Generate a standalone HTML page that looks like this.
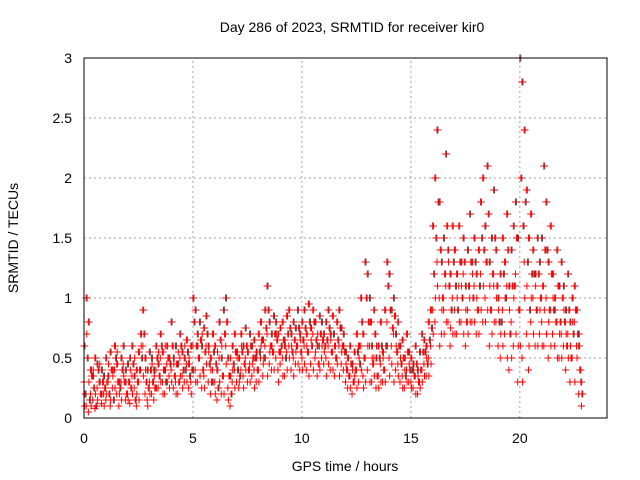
<!DOCTYPE html>
<html><head><meta charset="utf-8"><style>
body{margin:0;background:#fff;}
svg{display:block;font-family:"Liberation Sans",sans-serif;}
</style></head><body>
<svg id="chart" width="640" height="480" viewBox="0 0 640 480" xmlns="http://www.w3.org/2000/svg">
<rect width="640" height="480" fill="#fff"/>
<text x="352" y="32" font-size="14" text-anchor="middle">Day 286 of 2023, SRMTID for receiver kir0</text>
<text x="345" y="471" font-size="14" text-anchor="middle">GPS time / hours</text>
<text transform="translate(18,238) rotate(-90)" font-size="14" text-anchor="middle">SRMTID / TECUs</text>
<g id="grid"></g>
<g id="ticks"></g>
<g id="pts"></g>
<rect x="84" y="58" width="523" height="360" fill="none" stroke="#000" stroke-width="1"/>
</svg>
<script>
const xTicks=[0,5,10,15,20];
const yTicks=[0,0.5,1,1.5,2,2.5,3];
const yTickLabels=["0","0.5","1","1.5","2","2.5","3"];
const startHour=0, stepHour=0.1;
const valsLow=[
.3,.1,.05,.2,.15,.08,.25,.3,.12,.2,
.15,.3,.1,.25,.4,.2,.1,.3,.45,.15,
.2,.12,.35,.25,.1,.3,.4,.6,.2,.15,
.3,.2,.15,.4,.25,.5,.3,.2,.45,.35,
.4,.25,.3,.2,.5,.35,.3,.45,.25,.3,
.6,.4,.3,.5,.25,.35,.6,.3,.2,.4,
.3,.15,.5,.2,.35,.6,.25,.1,.3,.4,
.3,.25,.4,.35,.5,.3,.45,.35,.4,.3,
.4,.5,.35,.6,.7,.45,.4,.55,.5,.4,
.45,.5,.35,.55,.6,.4,.5,.45,.6,.4,
.5,.6,.4,.55,.45,.7,.5,.35,.6,.5,
.45,.5,.6,.4,.55,.35,.5,.6,.45,.4,
.3,.25,.35,.2,.3,.4,.3,.6,.35,.5,
.4,.6,.3,.5,.25,.35,.45,.3,.4,.8,
.5,.6,.7,.4,.45,.3,.35,.25,.4,.3,
.3,.25,.35,.2,.3,.4,.45,.35,.5,.6,
.9,.8,1.3,1.0,.7,.9,1.1,.8,.6,1.0,
.9,.7,1.1,.8,1.2,.6,.9,1.0,.8,1.1,
.7,.9,1.2,.8,1.0,1.3,.6,.9,1.1,.8,
.6,.5,.9,.7,1.1,.4,.8,.6,1.2,.3,
.9,.5,1.3,.7,.4,.8,1.0,.6,.9,.7,
.8,.6,1.0,.5,.9,.7,.6,.8,.5,.7,
.6,.4,.7,.3,.5,.8,.6,.2,.4];
const valsHigh=[
.6,1.0,.8,.4,.35,.5,.45,.3,.4,.35,
.5,.35,.55,.4,.6,.45,.3,.5,.6,.4,
.45,.5,.6,.35,.4,.55,.7,.9,.5,.4,
.55,.5,.4,.6,.45,.7,.55,.4,.6,.5,
.8,.5,.6,.45,.7,.55,.5,.65,.45,.6,
1.0,.9,.7,.8,.6,.75,.85,.6,.5,.7,
.6,.4,.8,.5,.9,1.0,.5,.35,.6,.7,
.55,.5,.7,.6,.75,.55,.7,.6,.65,.55,
.7,.8,.65,.9,1.1,.8,.7,.85,.8,.7,
.75,.8,.6,.85,.9,.7,.8,.75,.9,.7,
.8,.9,.7,.95,.75,.9,.8,.6,.85,.8,
.7,.8,.9,.7,.85,.6,.8,.9,.75,.7,
.55,.5,.6,.45,.55,.7,.6,1.0,.7,1.3,
1.2,1.0,.6,.9,.5,.6,.8,.55,.9,1.3,
1.2,.9,1.0,.7,.8,.6,.65,.5,.7,.55,
.5,.45,.6,.4,.55,.7,.65,.6,.8,.9,
1.6,2.0,2.4,1.8,1.3,1.5,2.2,1.4,1.2,1.6,
1.4,1.2,1.6,1.3,1.5,1.1,1.4,1.7,1.3,1.5,
1.2,1.4,1.8,2.0,1.6,2.1,1.3,1.5,1.9,1.4,
1.0,1.2,1.5,1.3,1.7,1.1,1.4,1.6,1.8,1.5,
3.0,2.8,2.4,1.9,1.5,1.7,1.4,1.2,1.5,1.3,
1.5,2.1,1.8,1.3,1.6,1.2,1.0,1.4,1.1,1.3,
1.1,.9,1.2,.8,1.0,1.1,.9,.6,.3];
const valsMidA=[
.2,.5,.15,.35,.25,.1,.4,.2,.3,.25,
.3,.2,.4,.15,.5,.3,.25,.4,.3,.2,
.3,.25,.45,.15,.3,.4,.5,.7,.3,.25,
.4,.3,.25,.5,.35,.6,.4,.3,.5,.45,
.6,.35,.45,.3,.6,.4,.4,.55,.35,.4,
.8,.6,.5,.65,.4,.55,.7,.45,.3,.55,
.45,.25,.65,.35,.7,.8,.35,.2,.45,.55,
.4,.35,.55,.45,.6,.4,.6,.5,.5,.4,
.55,.65,.5,.75,.9,.6,.55,.7,.65,.55,
.6,.65,.5,.7,.75,.55,.65,.6,.75,.55,
.65,.75,.55,.8,.6,.8,.65,.45,.7,.65,
.6,.65,.75,.55,.7,.5,.65,.75,.6,.55,
.4,.35,.45,.3,.4,.55,.45,.8,.5,1.0,
.8,.8,.45,.7,.35,.5,.6,.4,.6,1.1,
.9,.75,.85,.55,.6,.45,.5,.35,.55,.4,
.4,.35,.45,.3,.4,.55,.55,.45,.65,.75,
1.2,1.5,1.8,1.4,1.0,1.2,1.6,1.1,.9,1.3,
1.1,.9,1.3,1.0,1.3,.8,1.1,1.3,1.0,1.3,
.9,1.1,1.5,1.4,1.3,1.7,.9,1.2,1.5,1.1,
.8,.8,1.2,1.0,1.4,.7,1.1,1.1,1.5,.9,
2.0,1.6,1.8,1.3,.9,1.2,1.2,.9,1.2,1.0,
1.1,1.4,1.4,.9,1.2,.9,.8,1.1,.8,1.0,
.8,.6,.9,.5,.7,.9,.7,.4,.2];
const valsMidB=[
.1,.7,.3,.1,.4,.2,.15,.45,.2,.1,
.2,.45,.15,.35,.25,.55,.2,.15,.35,.3,
.15,.4,.2,.5,.2,.15,.6,.35,.4,.1,
.2,.45,.35,.25,.55,.3,.2,.6,.3,.25,
.3,.45,.2,.55,.35,.25,.6,.3,.5,.2,
.4,.3,.6,.35,.7,.25,.45,.55,.4,.3,
.2,.55,.3,.6,.2,.45,.15,.5,.4,.25,
.5,.3,.6,.25,.4,.55,.3,.45,.25,.5,
.3,.6,.45,.5,.35,.55,.6,.4,.7,.3,
.55,.35,.65,.4,.5,.6,.35,.55,.45,.65,
.4,.45,.6,.35,.65,.4,.55,.7,.4,.6,
.55,.35,.45,.65,.4,.6,.45,.35,.55,.6,
.45,.5,.25,.4,.35,.25,.5,.4,.25,.3,
.6,.3,.5,.35,.6,.25,.3,.5,.3,.6,
.35,.45,.3,.6,.35,.5,.25,.4,.3,.45,
.25,.4,.2,.35,.25,.3,.35,.5,.35,.45,
.7,1.0,1.1,.6,.9,.7,.8,1.3,.75,.7,
.7,1.0,.8,1.1,.7,.9,.7,.8,1.2,.8,
1.0,.7,.9,1.1,.8,.9,1.1,.7,.8,1.0,
.9,.7,.6,1.0,.5,.9,.5,1.0,.7,.6,
.6,.3,1.0,1.1,.6,1.0,.7,1.1,.6,.9,
.6,.9,.7,.8,.6,1.0,.9,.5,.7,.5,
.9,.7,.5,.6,.8,.3,.5,.7,.1];
const X0=84,X1=607,Y0=418,Y1=58,XMAX=24,YMAX=3;
const xs=v=>X0+(v/XMAX)*(X1-X0);
const ys=v=>Y0-(v/YMAX)*(Y0-Y1);
const NS="http://www.w3.org/2000/svg";
function mk(tag,attrs,parent){const e=document.createElementNS(NS,tag);for(const k in attrs)e.setAttribute(k,attrs[k]);parent.appendChild(e);return e;}
const grid=document.getElementById('grid'),ticks=document.getElementById('ticks'),pts=document.getElementById('pts');
xTicks.forEach(t=>{const x=xs(t);
 if(t>0){const g=mk('line',{x1:x,x2:x,y1:Y0,y2:Y1,stroke:'#a0a0a0','stroke-dasharray':'2,3','stroke-width':1},grid);
 
 }
 const l=mk('text',{x:x,y:443,'font-size':14,'text-anchor':'middle'},ticks);l.textContent=t;
 
 
});
yTicks.forEach((t,i)=>{const y=ys(t);
 if(t>0&&t<YMAX){const g=mk('line',{x1:X0,x2:X1,y1:y,y2:y,stroke:'#a0a0a0','stroke-dasharray':'2,3','stroke-width':1},grid);
 
 }
 const l=mk('text',{x:72,y:y+5,'font-size':14,'text-anchor':'end'},ticks);l.textContent=yTickLabels[i];
 
 
});
function plus(v,t,color){const x=xs(t),y=ys(v);
 const p=mk('path',{d:`M${x-3.5},${y}h7M${x},${y-3.5}v7`,stroke:color,'stroke-width':1,fill:'none'},pts);
 
 }
valsHigh.forEach((v,i)=>plus(v,startHour+i*stepHour+0.04,'#444'));
valsMidA.forEach((v,i)=>plus(v,startHour+i*stepHour+0.09,'#444'));
valsLow.forEach((v,i)=>plus(v,startHour+i*stepHour,'#f00'));
valsHigh.forEach((v,i)=>plus(v,startHour+i*stepHour,'#f00'));
valsMidA.forEach((v,i)=>plus(v,startHour+i*stepHour+0.05,'#f00'));
valsMidB.forEach((v,i)=>plus(v,startHour+i*stepHour+0.025,'#f00'));
</script>
</body></html>
